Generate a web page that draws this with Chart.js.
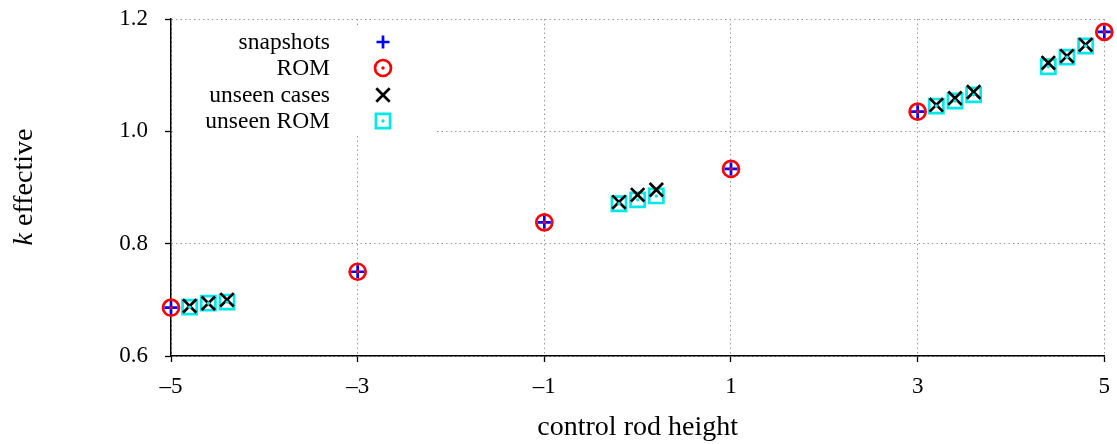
<!DOCTYPE html>
<html>
<head>
<meta charset="utf-8">
<script src="https://cdn.jsdelivr.net/npm/chart.js@4/dist/chart.umd.min.js"></script>
<style>
  html, body { margin: 0; padding: 0; background: #fff; }
  #wrap { width: 1117px; height: 444px; }
</style>
</head>
<body>
<div id="wrap"><canvas id="c"></canvas></div>
<script>
// ---- data ----
var snapX = [-5, -3, -1, 1, 3, 5]
var snapY = [0.686, 0.750, 0.838, 0.933, 1.035, 1.177]
var romY = [0.686, 0.750, 0.838, 0.933, 1.035, 1.177]

var unseenX = [-4.8, -4.6, -4.4, -0.2, 0.0, 0.2, 3.2, 3.4, 3.6, 4.4, 4.6, 4.8]
var unseenY = [0.689, 0.694, 0.700, 0.874, 0.887, 0.896, 1.047, 1.059, 1.070, 1.122, 1.134, 1.154]
var unseenRomY = [0.687, 0.694, 0.696, 0.871, 0.878, 0.885, 1.045, 1.054, 1.065, 1.115, 1.132, 1.152]

var xTicks = [-5, -3, -1, 1, 3, 5]
var yTicks = [0.6, 0.8, 1.0, 1.2]
var legendNames = ['snapshots', 'ROM', 'unseen cases', 'unseen ROM']

var serif = "'Liberation Serif', 'DejaVu Serif', serif"
var RED = '#ff0000', BLUE = '#0000ff', CYAN = '#00e8e8'

function pts(xs, ys){
    return xs.map(function(x, i){ return {x: x, y: ys[i]} })
}

// marker looks, shared by datasets and the legend
var looks = {
    snapshots:   {pointStyle: 'cross', radius: 6.5, borderWidth: 2.7, color: BLUE},
    rom:         {pointStyle: 'circle', radius: 8, borderWidth: 2.7, color: RED},
    unseen:      {pointStyle: 'crossRot', radius: 9.5, borderWidth: 2.7, color: '#000'},
    unseenRom:   {pointStyle: 'rect', radius: 10, borderWidth: 2.7, color: CYAN}
}

function ds(label, data, look, order, fill){
    return {
        label: label,
        data: data,
        showLine: false,
        clip: false,
        order: order,
        pointStyle: look.pointStyle,
        pointRadius: look.radius,
        pointHoverRadius: look.radius,
        pointBorderWidth: look.borderWidth,
        pointBorderColor: look.color,
        pointBackgroundColor: fill ? look.color : 'rgba(0,0,0,0)'
    }
}

var dotLook = function(c){ return {pointStyle: 'circle', radius: 1.7, borderWidth: 0, color: c} }

// legend + y title drawn by hand (right-aligned text, symbol to the right)
var extras = {
    id: 'extras',
    afterDatasetsDraw: function(chart){
        var ctx = chart.ctx
        ctx.save()
        ctx.fillStyle = '#fff'
        ctx.fillRect(173, 26, 262, 107)

        var keys = ['snapshots', 'rom', 'unseen', 'unseenRom']
        var rowsY = [42, 68, 95, 121]
        ctx.font = '23.5px ' + serif
        ctx.textAlign = 'right'
        ctx.textBaseline = 'middle'
        for (var i = 0; i < keys.length; i++){
            ctx.fillStyle = '#000'
            ctx.fillText(legendNames[i], 330, rowsY[i] + 1)
            var lk = looks[keys[i]]
            ctx.strokeStyle = lk.color
            ctx.fillStyle = 'rgba(0,0,0,0)'
            ctx.lineWidth = lk.borderWidth
            Chart.helpers.drawPoint(ctx, {pointStyle: lk.pointStyle, radius: lk.radius, rotation: 0, borderWidth: lk.borderWidth}, 383, rowsY[i])
            if (keys[i] == 'rom' || keys[i] == 'unseenRom'){
                ctx.fillStyle = lk.color
                ctx.beginPath()
                ctx.arc(383, rowsY[i], 1.7, 0, Math.PI * 2)
                ctx.fill()
            }
        }
        ctx.restore()
    },
    afterDraw: function(chart){
        // y axis title with italic k
        var ctx = chart.ctx
        ctx.save()
        ctx.translate(25, 187)
        ctx.rotate(-Math.PI / 2)
        ctx.textBaseline = 'middle'
        ctx.textAlign = 'left'
        ctx.fillStyle = '#000'
        ctx.font = 'italic 28px ' + serif
        var w1 = ctx.measureText('k').width
        ctx.font = '28px ' + serif
        var w2 = ctx.measureText(' effective').width
        var x0 = -(w1 + w2) / 2
        ctx.font = 'italic 28px ' + serif
        ctx.fillText('k', x0, 0)
        ctx.font = '28px ' + serif
        ctx.fillText(' effective', x0 + w1, 0)
        ctx.restore()
    }
}

var gridOpts = {
    color: '#9a9a9a',
    lineWidth: 1,
    drawTicks: true,
    tickLength: 6,
    tickColor: '#000',
    tickWidth: 1.3
}

new Chart(document.getElementById('c').getContext('2d'), {
    type: 'scatter',
    data: {
        datasets: [
            ds('ROM', pts(snapX, romY), looks.rom, 6, false),
            ds('snapshots', pts(snapX, snapY), looks.snapshots, 5, false),
            ds('', pts(snapX, romY), dotLook(RED), 4, true),
            ds('unseen ROM', pts(unseenX, unseenRomY), looks.unseenRom, 3, false),
            ds('unseen cases', pts(unseenX, unseenY), looks.unseen, 2, false),
            ds('', pts(unseenX, unseenRomY), dotLook(CYAN), 1, true)
        ]
    },
    options: {
        responsive: true,
        maintainAspectRatio: false,
        animation: false,
        layout: {padding: {left: 0, top: 19, right: 11, bottom: 0}},
        plugins: {
            legend: {display: false},
            tooltip: {enabled: false}
        },
        scales: {
            x: {
                type: 'linear',
                min: -5, max: 5,
                afterBuildTicks: function(s){ s.ticks = xTicks.map(function(v){ return {value: v} }) },
                afterFit: function(s){ s.height = 88; s.paddingLeft = 0; s.paddingRight = 0 },
                grid: gridOpts,
                border: {display: true, color: '#000', width: 1.5, dash: [1.5, 3]},
                ticks: {
                    color: '#000',
                    padding: 11,
                    maxRotation: 0,
                    font: {family: serif, size: 23},
                    callback: function(v){ return v < 0 ? '\u2013' + Math.abs(v) : String(v) }
                },
                title: {
                    display: true,
                    text: 'control rod height',
                    color: '#000',
                    font: {family: serif, size: 28},
                    padding: {top: 0, bottom: 0}
                }
            },
            y: {
                type: 'linear',
                min: 0.6, max: 1.2,
                afterBuildTicks: function(s){ s.ticks = yTicks.map(function(v){ return {value: v} }) },
                afterFit: function(s){ s.width = 171; s.paddingTop = 0; s.paddingBottom = 0 },
                grid: gridOpts,
                border: {display: true, color: '#000', width: 1.5, dash: [1.5, 3]},
                ticks: {
                    color: '#000',
                    padding: 17,
                    font: {family: serif, size: 23},
                    callback: function(v){ return Number(v).toFixed(1) }
                }
            }
        }
    },
    plugins: [extras]
});
</script>
</body>
</html>
